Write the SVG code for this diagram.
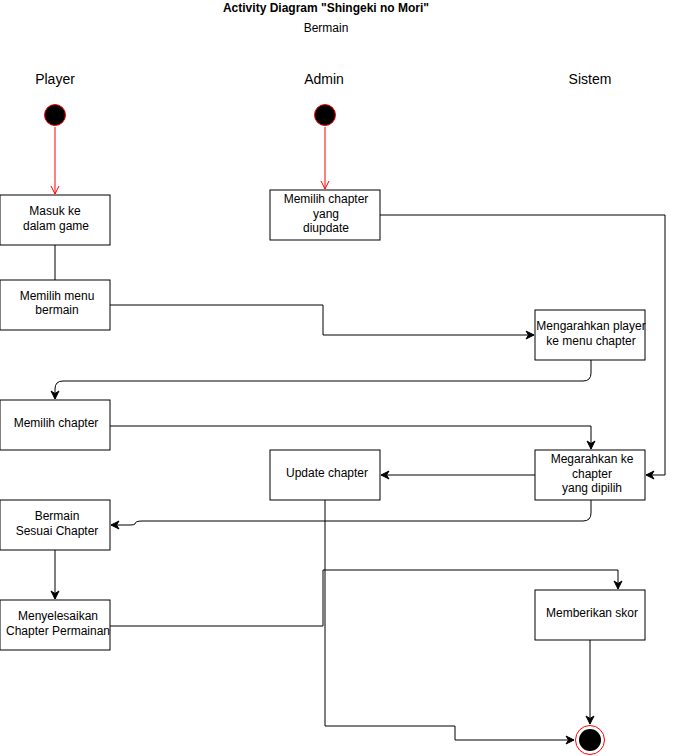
<svg xmlns="http://www.w3.org/2000/svg" width="675" height="756" viewBox="0 0 675 756">
<style>
text{font-family:"Liberation Sans",Arial,sans-serif;font-size:12px;fill:#000;text-anchor:middle}
.t{font-weight:bold}
.lane{font-size:14px}
.box{fill:#fff;stroke:#000;stroke-width:1}
.c{fill:none;stroke:#000;stroke-width:1}
.r{fill:none;stroke:#ff0000;stroke-width:1}
</style>
<defs>
<marker id="a" markerWidth="10" markerHeight="10" refX="9" refY="5" orient="auto" markerUnits="userSpaceOnUse">
<path d="M1,1 L9,5 L1,9 L3.5,5 z" fill="#000" stroke="#000" stroke-width="1"/>
</marker>
<marker id="o" markerWidth="12" markerHeight="12" refX="10" refY="6" orient="auto" markerUnits="userSpaceOnUse">
<path d="M2,2 L10,6 L2,10" fill="none" stroke="#ff0000" stroke-width="1"/>
</marker>
</defs>
<rect width="675" height="756" fill="#fff"/>
<text class="t" x="326" y="12">Activity Diagram "Shingeki no Mori"</text>
<text x="326" y="32">Bermain</text>
<text class="lane" x="55" y="84">Player</text>
<text class="lane" x="324" y="84">Admin</text>
<text class="lane" x="590" y="84">Sistem</text>

<g id="connectors">
<path class="r" d="M55,127 L55,194" marker-end="url(#o)"/>
<path class="r" d="M325,127 L325,189" marker-end="url(#o)"/>
<path class="c" d="M55,245 L55,280"/>
<path class="c" d="M110,305 L323,305 L323,335 L534,335" marker-end="url(#a)"/>
<path class="c" d="M380,215 L665,215 L665,475 L646,475" marker-end="url(#a)"/>
<path class="c" d="M591,360 L591,373 Q591,381 583,381 L63,381 Q55,381 55,389 L55,399" marker-end="url(#a)"/>
<path class="c" d="M110,426 L591,426 L591,449" marker-end="url(#a)"/>
<path class="c" d="M535,475 L381,475" marker-end="url(#a)"/>
<path class="c" d="M591,500 L591,513 Q591,521 583,521 L142,521 Q135,521 135,524 Q134,525 130,525 L111,525" marker-end="url(#a)"/>
<path class="c" d="M55,550 L55,599" marker-end="url(#a)"/>
<path class="c" d="M110,626 L323,626 L323,570 L618,570 L618,589" marker-end="url(#a)"/>
<path class="c" d="M325,500 L325,726 L455,726 L455,740 L574,740" marker-end="url(#a)"/>
<path class="c" d="M590,640 L590,724" marker-end="url(#a)"/>
</g>

<g id="start-player"><circle cx="55" cy="115" r="10.5" fill="#000" stroke="#ff0000"/></g>
<g id="start-admin"><circle cx="325" cy="115" r="10.5" fill="#000" stroke="#ff0000"/></g>

<g id="masuk"><rect class="box" x="0" y="195" width="110" height="50"/><text x="55" y="215">Masuk ke</text><text x="56" y="230">dalam game</text></g>
<g id="menu"><rect class="box" x="0" y="280" width="110" height="50"/><text x="57" y="300">Memilih menu</text><text x="57" y="314">bermain</text></g>
<g id="pilih-update"><rect class="box" x="270" y="190" width="110" height="50"/><text x="326" y="203">Memilih chapter</text><text x="326" y="218">yang</text><text x="326" y="232">diupdate</text></g>
<g id="mengarahkan"><rect class="box" x="535" y="310" width="110" height="50"/><text x="591" y="330">Mengarahkan player</text><text x="591" y="345">ke menu chapter</text></g>
<g id="memilih-chapter"><rect class="box" x="0" y="400" width="110" height="50"/><text x="56" y="427">Memilih chapter</text></g>
<g id="update"><rect class="box" x="270" y="450" width="110" height="50"/><text x="327" y="477">Update chapter</text></g>
<g id="megarahkan"><rect class="box" x="535" y="450" width="110" height="50"/><text x="592" y="463">Megarahkan ke</text><text x="592" y="478">chapter</text><text x="592" y="492">yang dipilih</text></g>
<g id="bermain"><rect class="box" x="0" y="500" width="110" height="50"/><text x="57" y="520">Bermain</text><text x="57" y="535">Sesuai Chapter</text></g>
<g id="menyelesaikan"><rect class="box" x="0" y="600" width="110" height="50"/><text x="58" y="620">Menyelesaikan</text><text x="58" y="635">Chapter Permainan</text></g>
<g id="skor"><rect class="box" x="535" y="590" width="110" height="50"/><text x="592" y="617">Memberikan skor</text></g>
<g id="end"><circle cx="590" cy="740" r="14.5" fill="#fff" stroke="#ff0000"/><circle cx="590" cy="740" r="11" fill="#000"/></g>
</svg>
